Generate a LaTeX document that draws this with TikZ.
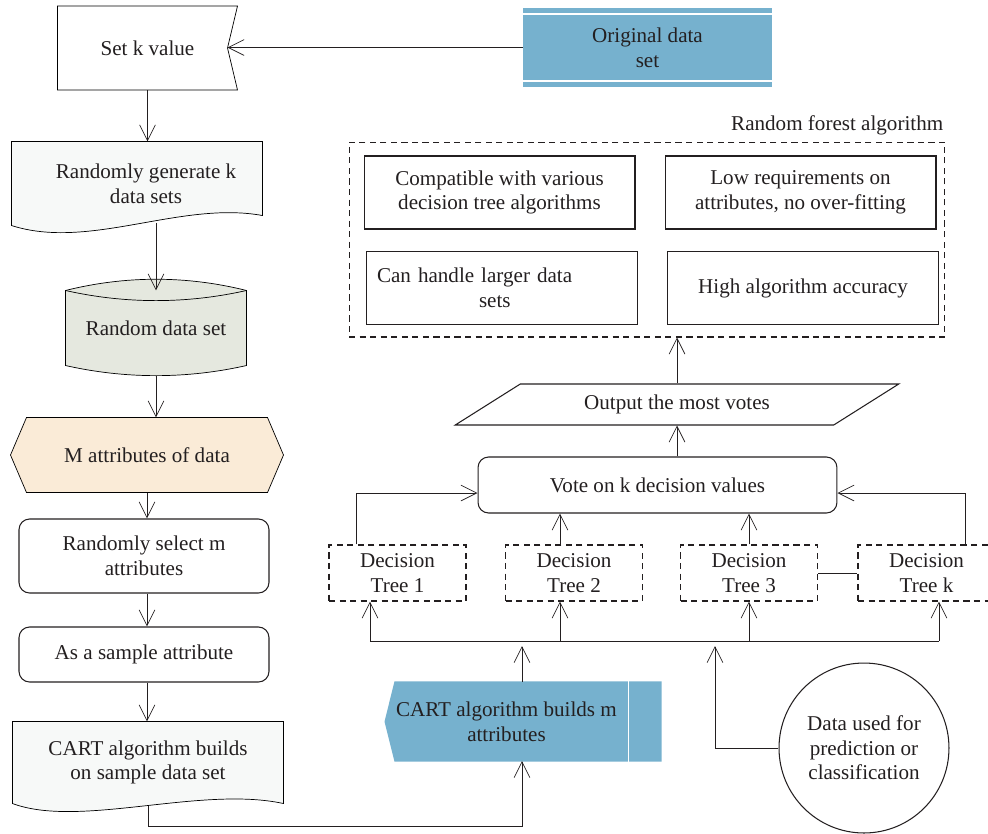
\documentclass[tikz,border=0pt]{standalone}
\usepackage{fontspec}
\setmainfont{Liberation Serif}
\usetikzlibrary{arrows.meta,shapes.geometric}
\pgfdeclarelayer{bg}
\pgfsetlayers{bg,main}
\definecolor{ink}{RGB}{35,31,32}
\definecolor{sky}{RGB}{118,177,206}
\definecolor{stone}{RGB}{229,232,223}
\definecolor{cream}{RGB}{250,235,215}
\definecolor{paper}{RGB}{247,249,248}

\begin{document}
\begin{tikzpicture}[x=0.02cm,y=-0.02cm,line width=0.6pt,color=ink,
    >={Straight Barb[length=9pt,width=9pt]},font=\fontsize{12}{14}\selectfont]
    \tikzstyle{holder}=[rectangle,align=center,inner sep=2pt]
    \tikzstyle{box}=[holder,draw]
    \tikzstyle{rbox}=[box,rounded corners=6pt]
    \tikzstyle{dashline}=[dash pattern=on 3.5pt off 2.5pt]
    \tikzstyle{dtree}=[box,dashline,minimum width=2.74cm,minimum height=1.12cm]
    \tikzstyle{feat}=[box,minimum width=5.42cm,minimum height=1.46cm]

    \useasboundingbox (0,0) rectangle (988,833);

    \node[holder,minimum width=3.58cm,minimum height=1.66cm] at (147.5,48) (setk) {Set k value};
    \node[holder,fill=sky,minimum width=4.98cm,minimum height=1.6cm] at (647.5,47.5) (orig) {Original data\\set};
    \node[holder,minimum width=4.64cm,minimum height=1.66cm] at (146,183.5) (gen) {Randomly generate k\\data sets};
    \node[holder,minimum width=3.6cm,minimum height=1.48cm] at (156,328) (rds) {Random data set};
    \node[holder,minimum width=5.44cm,minimum height=1.48cm] at (147,455) (hexn) {M attributes of data};
    \node[rbox,minimum width=5cm,minimum height=1.48cm] at (144,556) (sel) {Randomly select m\\attributes};
    \node[rbox,minimum width=5cm,minimum height=1.1cm] at (144,654.5) (samp) {As a sample attribute};
    \node[holder,minimum width=5.4cm,minimum height=1.62cm] at (148,762.5) (cartd) {CART algorithm builds\\on sample data set};

    \node[holder,minimum width=4.86cm,minimum height=1.58cm] at (506.5,721.5) (cartm) {CART algorithm builds m\\attributes};
    \node[draw,circle,minimum size=3.4cm,align=center,inner sep=0pt] at (864,748) (pred) {Data used for\\prediction or\\classification};

    \node[dtree] at (397.5,573) (t1) {Decision\\Tree 1};
    \node[dtree] at (574,573) (t2) {Decision\\Tree 2};
    \node[dtree] at (749,573) (t3) {Decision\\Tree 3};
    \node[dtree] at (926.5,573) (tk) {Decision\\Tree k};

    \node[rbox,minimum width=7.18cm,minimum height=1.12cm] at (657.5,485) (vote) {Vote on k decision values};
    \node[trapezium,draw,trapezium left angle=37,trapezium right angle=143,trapezium stretches=true,
        minimum width=8.88cm,minimum height=0.82cm] at (677,404.5) (outp) {Output the most votes};

    \node[draw,dashline,minimum width=11.92cm,minimum height=3.9cm] at (647,239.5) (rf) {};
    \node[anchor=south east,inner sep=1pt,yshift=0.08cm] at (rf.north east) (rflab) {Random forest algorithm};
    \node[feat] at (499.5,192.5) (f1) {Compatible with various\\decision tree algorithms};
    \node[feat] at (800.5,192.5) (f2) {Low requirements on\\attributes, no over-fitting};
    \node[feat,text width=5.0cm,align=left,inner xsep=0.2cm] at (502,288) (f3) {Can handle larger data\\\hspace*{2.04cm}sets};
    \node[feat] at (803,288) (f4) {High algorithm accuracy};

    \begin{pgfonlayer}{bg}
    \draw[fill=white] (setk.north west) -- (setk.north east) -- ([xshift=-0.2cm]setk.east) -- (setk.south east) -- (setk.south west) -- cycle;
    \draw[fill=paper] ([xshift=-0.36cm]gen.south west) -- ([xshift=-0.36cm]gen.north west) -- (gen.north east) -- ([yshift=0.2cm]gen.south east)
        .. controls +(-1.64cm,0.3cm) and +(1.56cm,-0.5cm) .. ([xshift=-0.36cm]gen.south west) -- cycle;
    \draw[fill=stone] (rds.north west) .. controls +(1.2cm,0.3cm) and +(-1.2cm,0.3cm) .. (rds.north east) -- (rds.south east)
        .. controls +(-1.2cm,-0.27cm) and +(1.2cm,-0.27cm) .. (rds.south west) -- cycle;
    \draw (rds.north west) .. controls +(1.2cm,-0.27cm) and +(-1.2cm,-0.27cm) .. (rds.north east);
    \draw[fill=cream] (hexn.west) -- ([xshift=0.32cm]hexn.north west) -- ([xshift=-0.32cm]hexn.north east) -- (hexn.east)
        -- ([xshift=-0.32cm]hexn.south east) -- ([xshift=0.32cm]hexn.south west) -- cycle;
    \draw[fill=paper] (cartd.south west) -- (cartd.north west) -- (cartd.north east) -- (cartd.south east)
        .. controls +(-1.66cm,0.36cm) and +(1.34cm,-0.5cm) .. (cartd.south west) -- cycle;
    \fill[sky] (cartm.west) -- ([xshift=0.2cm]cartm.north west) -- ([xshift=0.66cm]cartm.north east) -- ([xshift=0.66cm]cartm.south east)
        -- ([xshift=0.2cm]cartm.south west) -- cycle;
    \end{pgfonlayer}

    \draw[white,line width=1pt] ([yshift=-0.14cm]orig.north west) -- ([yshift=-0.14cm]orig.north east);
    \draw[white,line width=1pt] ([yshift=0.14cm]orig.south west) -- ([yshift=0.14cm]orig.south east);
    \draw[white,line width=1pt] (cartm.north east) -- (cartm.south east);

    \coordinate (setkin) at ([xshift=-0.2cm]setk.east);
    \coordinate (rdsbot) at ([yshift=-0.2cm]rds.south);
    \coordinate (cmin) at (522,761);
    \coordinate (cmout) at (522,682);
    \coordinate (bus1) at (370,641);
    \coordinate (busk) at (939,641);
    \coordinate (busin) at (715,641);
    \coordinate (t1top) at ([xshift=-0.83cm]t1.north);
    \coordinate (t2top) at ([xshift=-0.28cm]t2.north);
    \coordinate (t2bot) at ([xshift=-0.28cm]t2.south);
    \coordinate (tktop) at ([xshift=0.77cm]tk.north);

    \draw[->] (orig.west) -- (orig.west -| setkin);
    \draw[->] (setk.south) -- (setk.south |- gen.north);
    \draw[->,shorten <=-0.06cm] (gen.south -| rds.north) -- (rds.north);
    \draw[->] (rdsbot) -- (rdsbot |- hexn.north);
    \draw[->] (hexn.south) -- (hexn.south |- sel.north);
    \draw[->] (sel.south -| hexn.south) -- (samp.north -| hexn.south);
    \draw[->] (samp.south -| hexn.south) -- (cartd.north -| hexn.south);
    \draw[->,shorten <=0.05cm] (cartd.south) -- ++(0,-0.46cm) -| (cmin);

    \draw[->,shorten >=0.1cm] (cmout) -- (cmout |- bus1);
    \draw[->,shorten >=0.1cm] (pred.west) -| (busin);
    \draw (bus1) -- (busk);
    \draw[->] (bus1) -- (bus1 |- t1.south);
    \draw[->] (t2bot |- bus1) -- (t2bot);
    \draw[->] (t3.south |- bus1) -- (t3.south);
    \draw[->] (busk) -- (busk |- tk.south);
    \draw (t3.east) -- (tk.west);

    \draw[->] (t1top) |- ([yshift=-0.16cm]vote.west);
    \draw[->] (tktop) |- ([yshift=-0.16cm]vote.east);
    \draw[->] (t2top) -- (t2top |- vote.south);
    \draw[->] (t3.north) -- (t3.north |- vote.south);
    \draw[->] (vote.north -| outp.south) -- (outp.south);
    \draw[->] (outp.north) -- (outp.north |- rf.south);
\end{tikzpicture}
\end{document}
